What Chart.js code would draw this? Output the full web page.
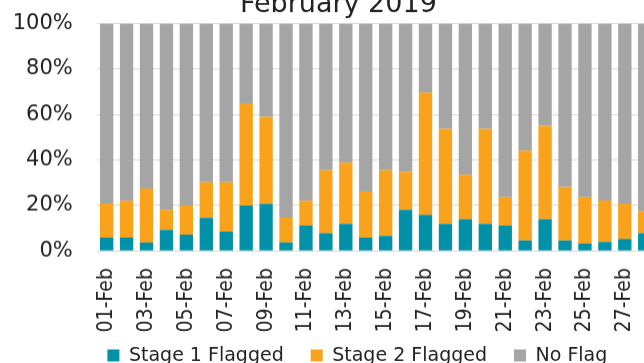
<!DOCTYPE html>
<html>
<head>
<meta charset="utf-8">
<script src="https://cdn.jsdelivr.net/npm/chart.js@4/dist/chart.umd.min.js"></script>
<style>
  html, body { margin: 0; padding: 0; background: #fff; overflow: hidden; }
  #wrap { position: absolute; left: 0; top: -12.6px; width: 690px; height: 401.3px; }
</style>
</head>
<body>
<div id="wrap"><canvas id="chart"></canvas></div>
<script>
const days = ['01-Feb','02-Feb','03-Feb','04-Feb','05-Feb','06-Feb','07-Feb','08-Feb','09-Feb','10-Feb',
  '11-Feb','12-Feb','13-Feb','14-Feb','15-Feb','16-Feb','17-Feb','18-Feb','19-Feb','20-Feb',
  '21-Feb','22-Feb','23-Feb','24-Feb','25-Feb','26-Feb','27-Feb','28-Feb'];

// share of the day's items, in %
const stage1 = [5.9, 5.9, 3.8, 9.3, 7.2, 14.6, 8.5, 20.0, 20.7, 3.8, 11.2, 7.9, 11.9, 5.9,
  6.6, 18.1, 15.9, 11.9, 14.0, 11.9, 11.2, 4.6, 14.0, 4.6, 3.2, 4.0, 5.3, 7.9];
const stage2 = [15.0, 16.2, 23.7, 8.8, 12.8, 15.6, 21.7, 45.0, 38.3, 10.9, 10.9, 27.6, 26.9, 20.3,
  28.9, 16.8, 53.8, 41.8, 19.5, 41.8, 12.4, 39.5, 41.0, 23.5, 20.4, 18.2, 15.6, 9.6];
const noFlag = [79.1, 77.9, 72.5, 81.9, 80.0, 69.8, 69.8, 35.0, 41.0, 85.3, 77.9, 64.5, 61.2, 73.8,
  64.5, 65.1, 30.3, 46.3, 66.5, 46.3, 76.4, 55.9, 45.0, 71.9, 76.4, 77.8, 79.1, 82.5];

const yTicks = [0, 20, 40, 60, 80, 100];

const ink = '#222';

// title and legend sit a bit right of the plot centre, legend tucked up under the dates
const nudgeBoxes = {
  id: 'nudgeBoxes',
  afterLayout(chart) {
    const t = chart.titleBlock, l = chart.legend;
    t.left += 11; t.right += 11;
    l.left += 30; l.right += 30;
    l.top -= 14.2; l.bottom -= 14.2;
  }
};

new Chart(document.getElementById('chart'), {
  type: 'bar',
  data: {
    labels: days,
    datasets: [
      { label: 'Stage 1 Flagged', data: stage1, backgroundColor: '#0091A9' },
      { label: 'Stage 2 Flagged', data: stage2, backgroundColor: '#F8A31B' },
      { label: 'No Flag', data: noFlag, backgroundColor: '#A5A5A5' }
    ]
  },
  plugins: [nudgeBoxes],
  options: {
    responsive: true,
    maintainAspectRatio: false,
    animation: false,
    layout: { padding: { left: 0, right: 35.3, top: 0, bottom: 0 } },
    datasets: { bar: { barPercentage: 0.67, categoryPercentage: 1 } },
    plugins: {
      title: {
        display: true,
        text: 'February 2019',
        color: ink,
        font: { family: 'DejaVu Sans', size: 27, weight: 'normal' },
        padding: { top: 0, bottom: 2.6 }
      },
      legend: {
        position: 'bottom',
        labels: {
          boxWidth: 12, boxHeight: 12, padding: 27, color: ink,
          font: { family: 'DejaVu Sans', size: 19 }
        }
      },
      tooltip: { enabled: false }
    },
    scales: {
      x: {
        stacked: true,
        grid: { display: false, drawTicks: false },
        border: { display: false },
        ticks: {
          autoSkip: false, minRotation: 90, maxRotation: 90, padding: 17,
          color: ink, font: { family: '"DejaVu Sans Condensed", "DejaVu Sans"', size: 21 },
          callback: (v, i) => (i % 2 === 0 ? days[i] : '')
        },
        afterFit: s => {
          s.height = 82;
          s.paddingLeft = 0;
          s.paddingRight = 0;
        }
      },
      y: {
        stacked: true,
        min: 0, max: 100,
        afterBuildTicks: s => { s.ticks = yTicks.map(v => ({ value: v })); },
        grid: { color: '#d9d9d9', drawTicks: false },
        border: { display: false },
        ticks: {
          padding: 24, color: ink,
          font: { family: 'DejaVu Sans', size: 21 },
          callback: v => v + '%'
        },
        afterFit: s => { s.width = 96.7; }
      }
    }
  }
});
</script>
</body>
</html>
